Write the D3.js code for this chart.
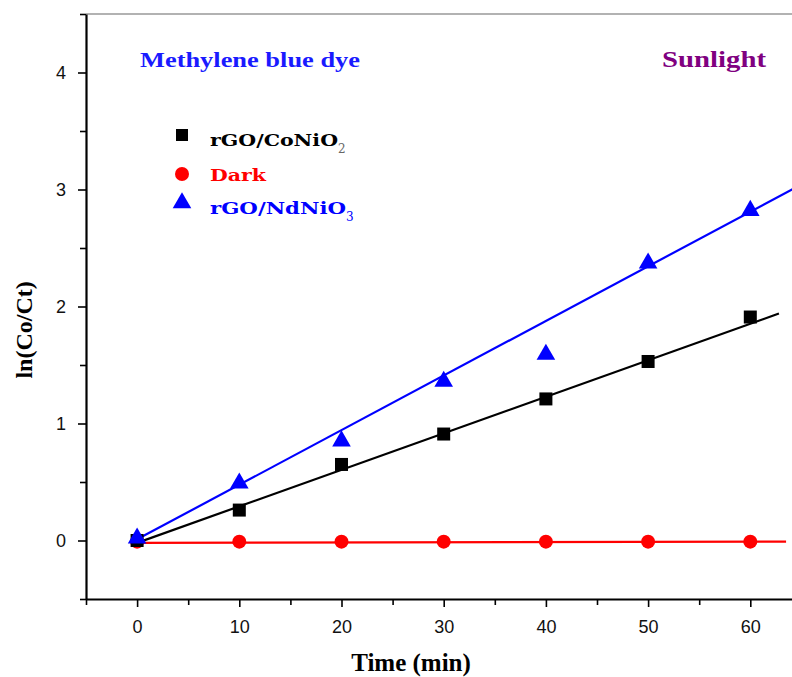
<!DOCTYPE html>
<html>
<head>
<meta charset="utf-8">
<script src="https://cdn.jsdelivr.net/npm/d3@7"></script>
<style>
  body { margin: 0; background: #fff; }
  svg { display: block; }
</style>
</head>
<body>
<div id="chart"></div>
<script>
// time points (min)
const times = [0, 10, 20, 30, 40, 50, 60];

// ln(Co/Ct)
const coNiO2 = [0, 0.26, 0.65, 0.91, 1.21, 1.53, 1.91];
const dark = [-0.01, -0.01, -0.01, -0.01, -0.01, -0.01, -0.01];
const ndNiO3 = [0.02, 0.49, 0.85, 1.36, 1.59, 2.37, 2.82];

// linear fits as drawn: [x0, y0, x1, y1]
const fitCoNiO2 = [0, -0.02, 62.8, 1.94];
const fitDark = [0, -0.02, 63.5, -0.01];
const fitNdNiO3 = [0, 0.01, 66, 3.09];

const xTicks = [0, 10, 20, 30, 40, 50, 60];
const yTicks = [0, 1, 2, 3, 4];

const width = 792;
const height = 677;
const margin = { top: 14, right: 0, bottom: 78, left: 86 };

const svg = d3
  .select("#chart")
  .append("svg")
  .attr("width", width)
  .attr("height", height);

const x = d3.scaleLinear().domain([-5, 65]).range([margin.left, margin.left + 70 * 10.22]);
const y = d3.scaleLinear().domain([-0.5, 4.5]).range([height - margin.bottom, margin.top]);

svg.append("clipPath").attr("id", "clip")
  .append("rect")
  .attr("x", margin.left)
  .attr("y", margin.top)
  .attr("width", width - margin.left)
  .attr("height", height - margin.bottom - margin.top);

// top frame line
svg.append("line")
  .attr("x1", margin.left).attr("x2", width)
  .attr("y1", y(4.5)).attr("y2", y(4.5))
  .attr("stroke", "#999").attr("stroke-width", 1.5);

const tickFont = "'Liberation Sans', Arial, sans-serif";

// x axis
svg.append("g")
  .attr("transform", `translate(0, ${y(-0.5)})`)
  .call(d3.axisBottom(x).tickValues(xTicks).tickSize(8).tickPadding(13).tickSizeOuter(0).tickFormat(d3.format("d")));
svg.append("g")
  .attr("transform", `translate(0, ${y(-0.5)})`)
  .call(d3.axisBottom(x).tickValues(d3.range(-5, 66, 10)).tickSize(6).tickFormat("").tickSizeOuter(0))
  .select(".domain").remove();

// y axis
svg.append("g")
  .attr("transform", `translate(${margin.left}, 0)`)
  .call(d3.axisLeft(y).tickValues(yTicks).tickSize(8).tickPadding(12).tickSizeOuter(0).tickFormat(d3.format("d")));
svg.append("g")
  .attr("transform", `translate(${margin.left}, 0)`)
  .call(d3.axisLeft(y).tickValues([-0.5, 0.5, 1.5, 2.5, 3.5, 4.5]).tickSize(6).tickFormat("").tickSizeOuter(0))
  .select(".domain").remove();

svg.selectAll(".domain").attr("stroke", "#000").attr("stroke-width", 2.2);
svg.selectAll(".tick line").attr("stroke", "#000").attr("stroke-width", 1.6);
svg.selectAll(".tick text")
  .attr("font-family", tickFont)
  .attr("font-size", 18)
  .attr("fill", "#111");

// axis titles
svg.append("text")
  .attr("x", 411).attr("y", 671)
  .attr("text-anchor", "middle")
  .attr("font-family", "'Liberation Serif', 'Times New Roman', serif")
  .attr("font-weight", "bold")
  .attr("font-size", 25)
  .text("Time (min)");

svg.append("text")
  .attr("transform", `translate(32, ${y(1.8)}) rotate(-90)`)
  .attr("text-anchor", "middle")
  .attr("font-family", "'Liberation Serif', 'Times New Roman', serif")
  .attr("font-weight", "bold")
  .attr("font-size", 24)
  .text("ln(Co/Ct)");

// fit lines
const plot = svg.append("g").attr("clip-path", "url(#clip)");
const fits = [
  { f: fitDark, color: "#ff0000" },
  { f: fitCoNiO2, color: "#000000" },
  { f: fitNdNiO3, color: "#0000ff" },
];
plot.selectAll(".fit")
  .data(fits)
  .enter()
  .append("line")
  .attr("class", "fit")
  .attr("x1", (d) => x(d.f[0]))
  .attr("y1", (d) => y(d.f[1]))
  .attr("x2", (d) => x(d.f[2]))
  .attr("y2", (d) => y(d.f[3]))
  .attr("stroke", (d) => d.color)
  .attr("stroke-width", 2.2);

// markers
plot.selectAll(".dark")
  .data(times.map((t, i) => [t, dark[i]]))
  .enter()
  .append("circle")
  .attr("cx", (d) => x(d[0]))
  .attr("cy", (d) => y(d[1]))
  .attr("r", 7)
  .attr("fill", "#ff0000");

plot.selectAll(".sq")
  .data(times.map((t, i) => [t, coNiO2[i]]))
  .enter()
  .append("rect")
  .attr("x", (d) => x(d[0]) - 6.5)
  .attr("y", (d) => y(d[1]) - 6.5)
  .attr("width", 13)
  .attr("height", 13)
  .attr("fill", "#000");

const tri = d3.symbol().type(d3.symbolTriangle).size(150);
plot.selectAll(".tri")
  .data(times.map((t, i) => [t, ndNiO3[i]]))
  .enter()
  .append("path")
  .attr("transform", (d) => `translate(${x(d[0])}, ${y(d[1])})`)
  .attr("d", tri)
  .attr("fill", "#0000ff");

// annotations
const serif = "'DejaVu Serif', 'Liberation Serif', serif";
svg.append("text")
  .attr("x", 140).attr("y", 67)
  .attr("font-family", "'Liberation Serif', serif")
  .attr("font-weight", "bold")
  .attr("font-size", 22)
  .attr("fill", "#1a1aff")
  .attr("textLength", 220)
  .attr("lengthAdjust", "spacingAndGlyphs")
  .text("Methylene blue dye");

svg.append("text")
  .attr("x", 662).attr("y", 67)
  .attr("font-family", "'Liberation Serif', serif")
  .attr("font-weight", "bold")
  .attr("font-size", 24)
  .attr("fill", "#800080")
  .attr("textLength", 104)
  .attr("lengthAdjust", "spacingAndGlyphs")
  .text("Sunlight");

// legend
const legend = [
  { name: "rGO/CoNiO", sub: "2", color: "#000", shape: "square", ty: 146, my: 135, len: 128 },
  { name: "Dark", sub: "", color: "#ff0000", shape: "circle", ty: 181, my: 174, len: 56 },
  { name: "rGO/NdNiO", sub: "3", color: "#0000ff", shape: "triangle", ty: 214, my: 203, len: 136 },
];
const lg = svg.append("g");
legend.forEach((d) => {
  if (d.shape === "square") {
    lg.append("rect").attr("x", 176).attr("y", d.my - 6).attr("width", 12).attr("height", 12).attr("fill", d.color);
  } else if (d.shape === "circle") {
    lg.append("circle").attr("cx", 182).attr("cy", d.my).attr("r", 7).attr("fill", d.color);
  } else {
    lg.append("path").attr("transform", `translate(182, ${d.my})`).attr("d", tri).attr("fill", d.color);
  }
  const t = lg.append("text")
    .attr("x", 210).attr("y", d.ty)
    .attr("font-family", serif)
    .attr("font-weight", "bold")
    .attr("font-size", 17)
    .attr("fill", d.color);
  t.append("tspan")
    .attr("textLength", d.len)
    .attr("lengthAdjust", "spacingAndGlyphs")
    .text(d.name);
  if (d.sub) {
    t.append("tspan")
      .attr("dy", 7)
      .attr("font-size", 12)
      .attr("font-weight", "normal")
      .attr("fill", d.color === "#000" ? "#666" : d.color)
      .text(d.sub);
  }
});
</script>
</body>
</html>
